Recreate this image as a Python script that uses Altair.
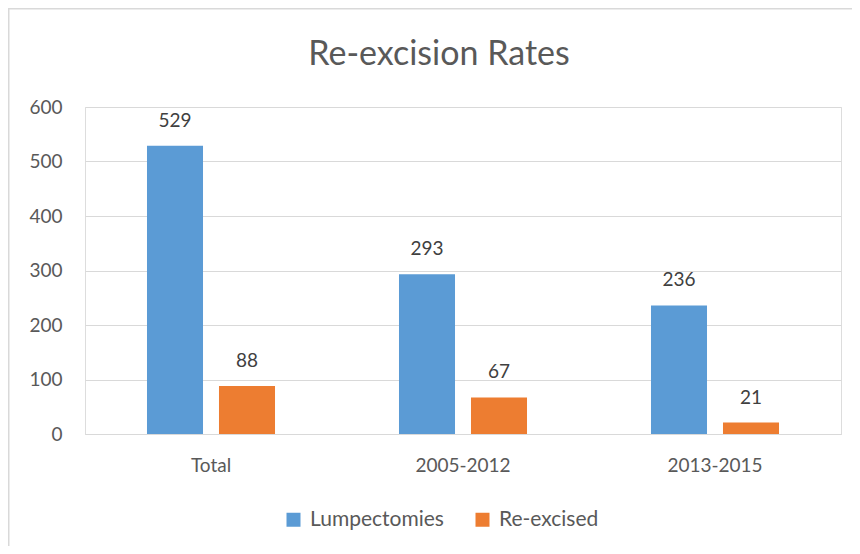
import altair as alt
import pandas as pd

title_text = "Re-excision Rates"
categories = ["Total", "2005-2012", "2013-2015"]
series = ["Lumpectomies", "Re-excised"]
lumpectomies = [529, 293, 236]
reexcised = [88, 67, 21]
y_ticks = [0, 100, 200, 300, 400, 500, 600]
colors = ["#5B9BD5", "#ED7D31"]

rows = []
for c, l, r in zip(categories, lumpectomies, reexcised):
    rows.append({"cat": c, "series": series[0], "value": l})
    rows.append({"cat": c, "series": series[1], "value": r})
df = pd.DataFrame(rows)

W, H = 756, 327
PL, PT, PR, PB = 77, 99, 11, 112
FONT = "Lato"

x = alt.X("cat:N", sort=categories,
          scale=alt.Scale(paddingInner=0.492, paddingOuter=0.246),
          axis=alt.Axis(title=None, labelAngle=0, labelFontSize=19, labelColor="#595959",
                        labelPadding=22, ticks=False, domainColor="#d9d9d9", domainWidth=1,
                        labelFont=FONT, grid=False))
xo = alt.XOffset("series:N", sort=series, scale=alt.Scale(paddingInner=0.222, paddingOuter=0))
y = alt.Y("value:Q", scale=alt.Scale(domain=[0, 600]),
          axis=alt.Axis(values=y_ticks, title=None, labelFontSize=19, labelColor="#595959",
                        labelPadding=23, ticks=False, domain=False, grid=True,
                        gridColor="#d9d9d9", gridWidth=1, labelFont=FONT))
color = alt.Color("series:N", sort=series,
                  scale=alt.Scale(domain=series, range=colors),
                  legend=alt.Legend(title=None, orient="none", legendX=198, legendY=402,
                                    direction="horizontal", symbolType="square", symbolSize=196,
                                    symbolStrokeWidth=0, labelFontSize=21, labelFont=FONT,
                                    labelColor="#595959", columnPadding=28, labelOffset=6))

base = alt.Chart(df).encode(x=x, xOffset=xo, y=y)
bars = base.mark_bar().encode(color=color)
labels = base.mark_text(dy=-19, baseline="alphabetic", fontSize=19, color="#404040",
                        font=FONT).encode(text="value:Q")

frame = alt.Chart(alt.Data(values=[{"t": title_text}]))
top_border = frame.mark_rule(color="#d9d9d9", strokeWidth=1.5).encode(
    x=alt.value(-PL), x2=alt.value(W + PR), y=alt.value(-PT + 0.75))
left_border = frame.mark_rule(color="#d9d9d9", strokeWidth=1.5).encode(
    x=alt.value(-PL + 0.75), y=alt.value(-PT), y2=alt.value(H + PB))
title = frame.mark_text(fontSize=34, font=FONT, color="#595959", align="center",
                        baseline="middle").encode(
    text="t:N", x=alt.value(354), y=alt.value(-52))

chart = alt.layer(bars, labels, top_border, left_border, title).properties(
    width=W, height=H,
    autosize=alt.AutoSizeParams(type="none"),
    padding={"left": PL, "top": PT, "right": PR, "bottom": PB},
).configure_view(stroke=None).configure(background="white")

chart.save("out.html", embed_options={"renderer": "svg", "actions": False})
